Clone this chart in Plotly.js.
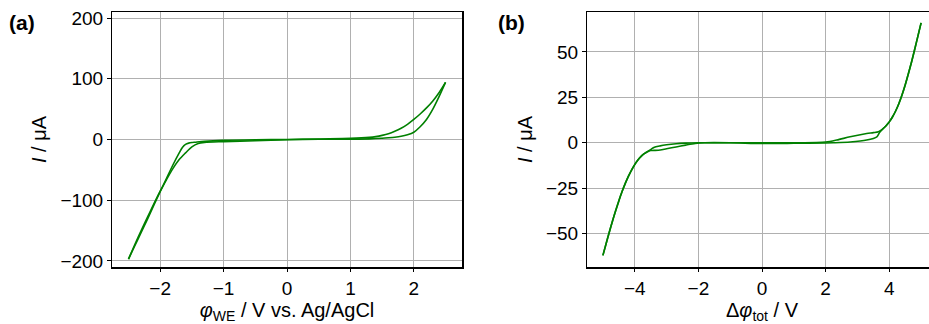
<!DOCTYPE html>
<html>
<head>
<meta charset="utf-8">
<script src="https://cdn.plot.ly/plotly-3.0.1.min.js"></script>
<style>
html, body { margin: 0; padding: 0; overflow: hidden; background: #fff; }
#chart { width: 940px; height: 324px; }
</style>
</head>
<body>
<div id="chart"></div>
<script>
// Panel (a): potential of working electrode vs current
const aFwdV = [-2.5,-2.4,-2.3,-2.2,-2.1,-2.0,-1.9,-1.8,-1.7,-1.65,-1.6,-1.55,-1.5,-1.45,-1.3,-1.0,-0.5,0,0.5,1.0,1.3,1.5,1.6,1.7,1.8,1.9,2.0,2.1,2.2,2.3,2.4,2.5];
const aFwdI = [-197,-175,-153,-131,-108,-86,-64,-42,-22,-13,-8,-6,-5,-4.5,-3,-1.5,-0.5,0,0.3,0.6,1,2,2.8,3.8,5.3,7.8,12,21,33,50,71,94];
const aRevV = [-2.5,-2.4,-2.3,-2.2,-2.1,-2.0,-1.9,-1.8,-1.7,-1.6,-1.5,-1.4,-1.3,-1.0,-0.5,0,0.5,1.0,1.3,1.4,1.5,1.6,1.7,1.8,1.9,2.0,2.1,2.2,2.3,2.4,2.5];
const aRevI = [-197,-173,-150,-128,-106,-85,-66,-48,-33,-22,-12,-6.5,-4.8,-3.5,-2,-0.3,0.8,1.8,3.5,4.8,6.8,9.5,13.5,18.5,25,33,42,52,63.5,77.5,94];

// Panel (b): total potential difference vs current
const bFwdV = [-5.0,-4.9,-4.8,-4.7,-4.6,-4.5,-4.4,-4.3,-4.2,-4.1,-4.0,-3.9,-3.8,-3.7,-3.6,-3.5,-3.4,-3.2,-3.0,-2.7,-2.4,-2.1,-1.8,-1.0,0,1.0,2.0,2.24,2.77,3.29,3.61,3.7,3.8,3.9,4.0,4.1,4.2,4.3,4.4,4.5,4.6,4.7,4.8,4.9,5.0];
const bFwdI = [-62,-55.6,-49.3,-43.2,-37.4,-32,-27,-22.5,-18.5,-15,-12,-9.5,-7.5,-6.0,-4.9,-4.3,-4.2,-4.0,-3.3,-2.3,-1.3,-0.4,0,0,-0.4,-0.3,-0.1,0,0.4,1.5,3.3,5.8,7.7,9.4,11.5,14.2,17.5,21.5,26.3,31.8,38,44.5,51.5,58.7,66];
const bRevV = [-5.0,-4.9,-4.8,-4.7,-4.6,-4.5,-4.4,-4.3,-4.2,-4.1,-4.0,-3.9,-3.8,-3.7,-3.6,-3.5,-3.4,-3.2,-3.0,-2.7,-2.4,-2.0,-1.0,0,1.0,2.0,2.35,2.77,3.29,3.5,3.66,3.8,3.9,4.0,4.1,4.2,4.3,4.4,4.5,4.6,4.7,4.8,4.9,5.0];
const bRevI = [-62,-55.6,-49.3,-43.2,-37.4,-32,-27,-22.5,-18.5,-15,-12,-9.5,-7.5,-6.0,-4.9,-3.8,-2.6,-1.7,-1.1,-0.5,-0.2,0,0,0,0,0.4,1.5,3.3,5.1,5.6,6.1,7.7,9.4,11.5,14.2,17.5,21.5,26.3,31.8,38,44.5,51.5,58.7,66];

// Tick labels
const aXTicks = [-2,-1,0,1,2];
const aYTicks = [-200,-100,0,100,200];
const bXTicks = [-4,-2,0,2,4];
const bYTicks = [-50,-25,0,25,50];

const W = 940, H = 324;
const FONT = 'Liberation Sans, Arial, Helvetica, sans-serif';
const green = '#008000';

function lineTrace(x, y, xa, ya) {
  return { x: x, y: y, xaxis: xa, yaxis: ya, type: 'scatter', mode: 'lines',
    line: { color: green, width: 1.6, shape: 'spline', smoothing: 0.8 },
    showlegend: false, hoverinfo: 'x+y' };
}

const data = [
  lineTrace(aFwdV, aFwdI, 'x', 'y'),
  lineTrace(aRevV, aRevI, 'x', 'y'),
  lineTrace(bFwdV, bFwdI, 'x2', 'y2'),
  lineTrace(bRevV, bRevI, 'x2', 'y2')
];

function axisBase(extra) {
  return Object.assign({
    showline: true, linecolor: '#000', linewidth: 1.5, mirror: true,
    showgrid: true, gridcolor: '#b0b0b0', gridwidth: 1,
    zeroline: false, ticks: 'outside', ticklen: 3.5, tickwidth: 1, tickcolor: '#000',
    tickfont: { family: FONT, size: 19, color: '#000' },
    tickmode: 'array'
  }, extra);
}

const layout = {
  width: W, height: H,
  margin: { l: 0, r: 0, t: 12, b: 57, pad: 0 },
  paper_bgcolor: '#fff', plot_bgcolor: '#fff',
  font: { family: FONT, size: 19, color: '#000' },
  xaxis: axisBase({ domain: [112/W, 462/W], range: [-2.76, 2.76], tickvals: aXTicks, anchor: 'y',
    title: { text: '<i>φ</i><sub>WE</sub> / V vs. Ag/AgCl', font: { family: FONT, size: 20 }, standoff: 6 } }),
  yaxis: axisBase({ domain: [0, 1], range: [-210, 210], tickvals: aYTicks, anchor: 'x',
    title: { text: '<i>I</i> / μA', font: { family: FONT, size: 20 }, standoff: 8 } }),
  xaxis2: axisBase({ domain: [587/W, 937/W], range: [-5.5, 5.5], tickvals: bXTicks, anchor: 'y2',
    title: { text: 'Δ<i>φ</i><sub>tot</sub> / V', font: { family: FONT, size: 20 }, standoff: 6 } }),
  yaxis2: axisBase({ domain: [0, 1], range: [-68.4, 72], tickvals: bYTicks, anchor: 'x2',
    title: { text: '<i>I</i> / μA', font: { family: FONT, size: 20 }, standoff: 8 } }),
  annotations: [
    { text: '<b>(a)</b>', xref: 'paper', yref: 'paper', x: 7/W, y: (267-23)/255,
      xanchor: 'left', yanchor: 'middle', showarrow: false, font: { family: FONT, size: 21, color: '#000' } },
    { text: '<b>(b)</b>', xref: 'paper', yref: 'paper', x: 496/W, y: (267-23)/255,
      xanchor: 'left', yanchor: 'middle', showarrow: false, font: { family: FONT, size: 21, color: '#000' } }
  ]
};

Plotly.newPlot('chart', data, layout, { staticPlot: true, displayModeBar: false });
</script>
</body>
</html>
